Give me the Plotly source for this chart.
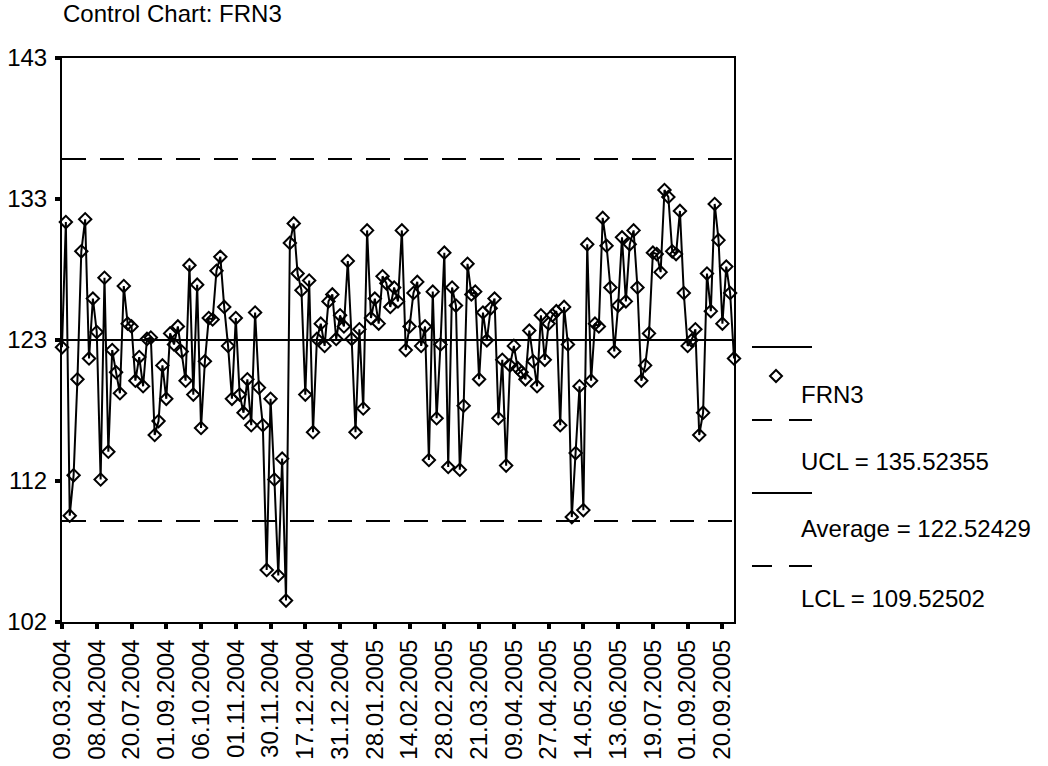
import plotly.graph_objects as go

# FRN3 measurements, in sampling order
frn3 = [
    122.0, 131.0, 109.9, 112.8, 119.7, 128.9, 131.2, 121.2, 125.5, 123.1,
    112.5, 127.0, 114.5, 121.8, 120.2, 118.7, 126.4, 123.7, 123.5, 119.6,
    121.3, 119.2, 122.6, 122.7, 115.7, 116.7, 120.7, 118.3, 123.0, 122.2,
    123.5, 121.7, 119.6, 127.9, 118.6, 126.5, 116.2, 121.0, 124.1, 124.0,
    127.5, 128.5, 124.9, 122.1, 118.3, 124.1, 118.6, 117.3, 119.7, 116.4,
    124.5, 119.1, 116.4, 106.0, 118.3, 112.5, 105.6, 114.0, 103.8, 129.5,
    130.9, 127.3, 126.1, 118.6, 126.8, 115.9, 122.6, 123.7, 122.1, 125.3,
    125.8, 122.6, 124.3, 123.5, 128.2, 122.6, 115.9, 123.3, 117.6, 130.4,
    124.1, 125.5, 123.7, 127.1, 126.6, 124.9, 126.3, 125.3, 130.4, 121.8,
    123.5, 125.9, 126.7, 122.1, 123.5, 113.9, 126.0, 116.9, 122.2, 128.8,
    113.4, 126.3, 125.0, 113.2, 117.8, 128.0, 125.8, 126.0, 119.7, 124.5,
    122.5, 124.8, 125.5, 116.9, 121.1, 113.5, 120.7, 122.1, 120.5, 120.2,
    119.7, 123.2, 121.0, 119.2, 124.3, 121.1, 123.7, 124.3, 124.6, 116.4,
    124.9, 122.2, 109.8, 114.4, 119.2, 110.3, 129.4, 119.6, 123.7, 123.5,
    131.3, 129.3, 126.3, 121.7, 125.0, 129.9, 125.3, 129.4, 130.4, 126.3,
    119.6, 120.7, 123.0, 128.8, 128.7, 127.4, 133.3, 132.8, 128.9, 128.7,
    131.8, 125.9, 122.1, 122.5, 123.3, 115.7, 117.3, 127.3, 124.6, 132.3,
    129.7, 123.7, 127.8, 125.9, 121.2,
]

# Dates shown on the category axis (every 9th sample)
date_labels = [
    "09.03.2004", "08.04.2004", "20.07.2004", "01.09.2004", "06.10.2004",
    "01.11.2004", "30.11.2004", "17.12.2004", "31.12.2004", "28.01.2005",
    "14.02.2005", "28.02.2005", "21.03.2005", "09.04.2005", "27.04.2005",
    "14.05.2005", "13.06.2005", "19.07.2005", "01.09.2005", "20.09.2005",
]
label_step = 9

# Control limits
ucl = 135.52355
average = 122.52429
lcl = 109.52502

# Value axis: five evenly spaced ticks labelled with rounded values
y_min, y_max = 102.26, 142.79
y_ticks = [y_min + k * (y_max - y_min) / 4 for k in range(5)]
y_tick_text = [str(int(round(v))) for v in y_ticks]

sample_idx = list(range(len(frn3)))
x_ticks = [k * label_step for k in range(len(date_labels))]

FONT = "Arial, Liberation Sans, sans-serif"
WIDTH, HEIGHT = 1048, 766
L, R, T, B = 62, 314, 58, 144
PW, PH = WIDTH - L - R, HEIGHT - T - B


def px_x(px):
    return (px - L) / PW


def px_y(py):
    return (T + PH - py) / PH


fig = go.Figure()
fig.add_trace(go.Scatter(
    x=sample_idx, y=frn3, mode="lines+markers", name="FRN3",
    line=dict(color="black", width=2),
    marker=dict(symbol="diamond-open", size=9.5, color="black",
                line=dict(color="black", width=2)),
    cliponaxis=False,
))

shapes = []
# Control lines across the plot
for val, dash in [(ucl, "24px,14px"), (average, "solid"), (lcl, "24px,14px")]:
    shapes.append(dict(type="line", xref="paper", yref="y", x0=0, x1=1,
                       y0=val, y1=val, layer="below",
                       line=dict(color="black", width=2, dash=dash)))


def seg(x0, x1, y):
    return dict(type="line", xref="paper", yref="paper",
                x0=px_x(x0), x1=px_x(x1), y0=px_y(y), y1=px_y(y),
                line=dict(color="black", width=2))


# Legend keys drawn beside the plot
shapes.append(seg(752, 812, 347))
shapes += [seg(752, 772, 420), seg(789, 812, 420)]
shapes.append(seg(752, 812, 493))
shapes += [seg(752, 772, 566), seg(789, 812, 566)]
cx, cy, hw = 776, 376, 6
shapes.append(dict(
    type="path", xref="paper", yref="paper",
    path=(f"M {px_x(cx)},{px_y(cy - hw)} L {px_x(cx + hw)},{px_y(cy)} "
          f"L {px_x(cx)},{px_y(cy + hw)} L {px_x(cx - hw)},{px_y(cy)} Z"),
    line=dict(color="black", width=2), fillcolor="rgba(0,0,0,0)"))

annotations = []
for text, ypx in [("FRN3", 395), (f"UCL = {ucl:.5f}", 461),
                  (f"Average = {average:.5f}", 528), (f"LCL = {lcl:.5f}", 598)]:
    annotations.append(dict(text=text, xref="paper", yref="paper",
                            x=px_x(799), y=px_y(ypx), xanchor="left",
                            yanchor="middle", showarrow=False,
                            font=dict(family=FONT, size=24, color="black")))

fig.update_layout(
    width=WIDTH, height=HEIGHT,
    margin=dict(l=L, r=R, t=T, b=B, pad=0, autoexpand=False),
    paper_bgcolor="white", plot_bgcolor="white",
    showlegend=False,
    title=dict(text="Control Chart: FRN3", x=63 / WIDTH, xanchor="left",
               y=1 - 14 / HEIGHT, yanchor="middle", automargin=False,
               font=dict(family=FONT, size=24, color="black")),
    font=dict(family=FONT, size=24, color="black"),
    shapes=shapes, annotations=annotations,
)
fig.update_xaxes(
    range=[0, len(frn3) - 1], tickmode="array", tickvals=x_ticks,
    ticktext=date_labels, tickangle=-90, ticks="outside", ticklen=5,
    tickwidth=4, tickcolor="black", showline=True, linecolor="black",
    linewidth=2, mirror=True, showgrid=False, zeroline=False,
    ticklabelstandoff=1, automargin=False,
    tickfont=dict(family=FONT, size=24, color="black"),
)
fig.update_yaxes(
    range=[y_min, y_max], tickmode="array", tickvals=y_ticks,
    ticktext=y_tick_text, ticks="outside", ticklen=5, tickwidth=4,
    tickcolor="black", showline=True, linecolor="black", linewidth=2,
    mirror=True, showgrid=False, zeroline=False,
    ticklabelstandoff=3, automargin=False,
    tickfont=dict(family=FONT, size=24, color="black"),
)

fig.write_html("out.html")
